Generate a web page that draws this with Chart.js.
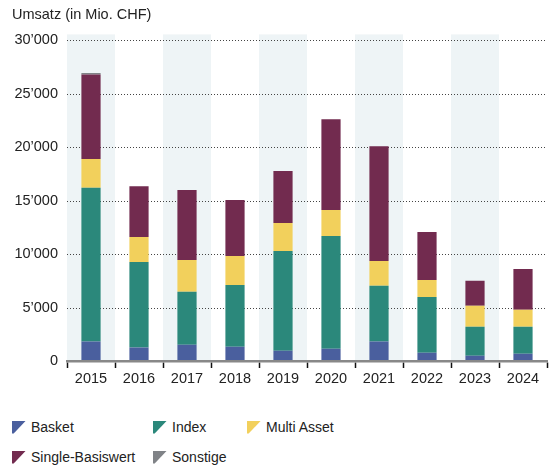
<!DOCTYPE html>
<html>
<head>
<meta charset="utf-8">
<script src="https://cdn.jsdelivr.net/npm/chart.js@4"></script>
<style>
  body { margin: 0; background: #fff; font-family: "Liberation Sans", Arial, sans-serif; color: #222; }
  #wrap { position: relative; width: 558px; height: 468px; }
  #box { position: absolute; left: 0; top: 0; width: 558px; height: 395px; }
  #legende { position: absolute; left: 12px; top: 418px; display: grid; grid-template-columns: 141px 94px auto; row-gap: 12px; font-size: 14px; }
  .item { display: flex; align-items: center; height: 18px; white-space: nowrap; }
  .marke { width: 14px; height: 13px; margin-right: 5px; clip-path: polygon(0 0, 100% 0, 12% 100%, 0 100%); }
</style>
</head>
<body>
<div id="wrap">
  <div id="box"><canvas id="umsatzChart"></canvas></div>
  <div id="legende"></div>
</div>
<script>
// Jahre und Umsatz je Produktkategorie (Mio. CHF)
const jahre = ['2015', '2016', '2017', '2018', '2019', '2020', '2021', '2022', '2023', '2024'];
const basket = [1830, 1270, 1520, 1335, 960, 1150, 1830, 775, 495, 680];
const index = [14380, 8000, 4950, 5785, 9340, 10550, 5200, 5225, 2705, 2520];
const multiAsset = [2700, 2330, 2990, 2710, 2610, 2425, 2335, 1590, 1960, 1590];
const singleBasiswert = [7910, 4760, 6530, 5230, 4860, 8495, 10735, 4480, 2340, 3830];
const sonstige = [120, 0, 0, 0, 0, 0, 0, 0, 0, 0];
const yTicks = [0, 5000, 10000, 15000, 20000, 25000, 30000];

const serien = [
  { label: 'Basket', data: basket, color: '#4a5f9e' },
  { label: 'Index', data: index, color: '#2b887b' },
  { label: 'Multi Asset', data: multiAsset, color: '#f2d05c' },
  { label: 'Single-Basiswert', data: singleBasiswert, color: '#722b4f' },
  { label: 'Sonstige', data: sonstige, color: '#808387' }
];

// Tausendertrennzeichen wie 30’000
function fmt(v) {
  return String(v).replace(/\B(?=(\d{3})+(?!\d))/g, '’');
}

// Hellblaue Streifen hinter jedem zweiten Jahr, darüber gepunktete Rasterlinien
const hintergrund = {
  id: 'hintergrund',
  beforeDatasetsDraw(chart) {
    const { ctx, chartArea, scales } = chart;
    const x = scales.x;
    const y = scales.y;
    const breite = (chartArea.right - chartArea.left) / jahre.length;
    ctx.save();
    ctx.fillStyle = '#eef4f6';
    jahre.forEach((j, i) => {
      if (i % 2 === 0) {
        const mitte = x.getPixelForValue(i);
        ctx.fillRect(mitte - breite / 2, chartArea.top - 6, breite, chartArea.bottom - chartArea.top + 6);
      }
    });
    ctx.strokeStyle = '#444';
    ctx.lineWidth = 1;
    ctx.setLineDash([1, 2]);
    yTicks.forEach(v => {
      if (v === 0) return;
      const py = Math.round(y.getPixelForValue(v)) + 0.5;
      ctx.beginPath();
      ctx.moveTo(chartArea.left, py);
      ctx.lineTo(chartArea.right, py);
      ctx.stroke();
    });
    ctx.restore();
  }
};

const schrift = { family: '"Liberation Sans", Arial, sans-serif', size: 14.5 };

var umsatzChart = new Chart(document.getElementById('umsatzChart'), {
  type: 'bar',
  data: {
    labels: jahre,
    datasets: serien.map(s => ({
      label: s.label,
      data: s.data,
      backgroundColor: s.color,
      borderWidth: 0,
      barPercentage: 0.4,
      categoryPercentage: 1
    }))
  },
  options: {
    responsive: true,
    maintainAspectRatio: false,
    animation: false,
    layout: { padding: { left: 12, right: 11, top: 0, bottom: 0 } },
    scales: {
      x: {
        stacked: true,
        afterFit(scale) { scale.height = 34; },
        border: { color: '#888', width: 2.5, z: 1 },
        grid: { drawOnChartArea: false, drawTicks: true, tickLength: 7, tickColor: '#111', tickWidth: 1.5 },
        ticks: { color: '#222', font: schrift, padding: 2 }
      },
      y: {
        stacked: true,
        min: 0,
        max: 30000,
        afterFit(scale) { scale.width = 55; },
        afterBuildTicks(scale) { scale.ticks = yTicks.map(v => ({ value: v })); },
        border: { display: false },
        grid: { display: false, drawTicks: false },
        ticks: { color: '#222', font: schrift, padding: 9, callback: v => fmt(v) }
      }
    },
    plugins: {
      legend: { display: false },
      tooltip: { enabled: false },
      title: {
        display: true,
        text: 'Umsatz (in Mio. CHF)',
        align: 'start',
        color: '#222',
        font: { family: schrift.family, size: 14.5, weight: 'normal' },
        padding: { top: 6, bottom: 17 }
      }
    }
  },
  plugins: [hintergrund]
});

// Legende mit Dreiecksmarken
const legende = document.getElementById('legende');
serien.forEach(s => {
  const item = document.createElement('div');
  item.className = 'item';
  const marke = document.createElement('span');
  marke.className = 'marke';
  marke.style.background = s.color;
  const text = document.createElement('span');
  text.textContent = s.label;
  item.appendChild(marke);
  item.appendChild(text);
  legende.appendChild(item);
});
</script>
</body>
</html>
